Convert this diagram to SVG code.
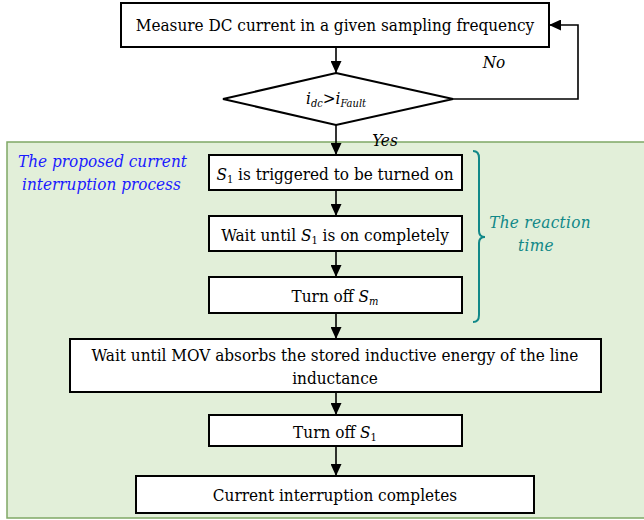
<svg xmlns="http://www.w3.org/2000/svg" width="644" height="520" viewBox="0 0 644 520">
  <style>
    text { font-family: 'DejaVu Serif Condensed', 'DejaVu Serif', serif; font-stretch: condensed; }
    .box { fill: #ffffff; stroke: #000000; stroke-width: 2; }
    .t { font-size: 17px; fill: #000000; text-anchor: middle; }
    .it { font-style: italic; }
    .sub { font-size: 11px; }
    .wire { fill: none; stroke: #000000; stroke-width: 1.6; }
    .blue { font-style: italic; font-size: 17px; fill: #1a1aff; }
    .teal { font-style: italic; font-size: 17px; fill: #118888; text-anchor: middle; letter-spacing: 0.3px; }
  </style>
  <defs>
    <marker id="arrow" viewBox="0 0 12 11" refX="12" refY="5.5" markerWidth="12" markerHeight="11" markerUnits="userSpaceOnUse" orient="auto">
      <path d="M0,0 L12,5.5 L0,11 z" fill="#000000"/>
    </marker>
  </defs>

  <!-- process region -->
  <g id="region">
    <rect x="7" y="142" width="645" height="376" fill="#e2efd9" stroke="#7fa865" stroke-width="1.5"/>
    <text class="blue" x="18" y="167">The proposed current</text>
    <text class="blue" x="22" y="190">interruption process</text>
  </g>

  <g id="measure">
    <rect class="box" x="121" y="3" width="428" height="44"/>
    <text class="t" x="335" y="31">Measure DC current in a given sampling frequency</text>
  </g>

  <g id="decision">
    <polygon points="336,73 453,99 336,125 223,99" fill="#ffffff" stroke="#000000" stroke-width="2"/>
    <text class="t it" x="336" y="104">i<tspan class="sub" dy="3">dc</tspan><tspan dy="-3">&gt;i</tspan><tspan class="sub" dy="3">Fault</tspan></text>
  </g>

  <g id="step1">
    <rect class="box" x="209" y="155" width="253" height="35"/>
    <text class="t" x="335" y="180" font-size="16.5"><tspan class="it">S</tspan><tspan class="sub" dy="3">1</tspan><tspan dy="-3"> is triggered to be turned on</tspan></text>
  </g>

  <g id="step2">
    <rect class="box" x="209" y="216" width="253" height="35"/>
    <text class="t" x="335" y="241">Wait until <tspan class="it">S</tspan><tspan class="sub" dy="3">1</tspan><tspan dy="-3"> is on completely</tspan></text>
  </g>

  <g id="step3">
    <rect class="box" x="209" y="277" width="253" height="36"/>
    <text class="t" x="335" y="302">Turn off <tspan class="it">S</tspan><tspan class="sub it" dy="3">m</tspan></text>
  </g>

  <g id="step4">
    <rect class="box" x="70" y="339" width="531" height="53"/>
    <text class="t" x="335" y="361">Wait until MOV absorbs the stored inductive energy of the line</text>
    <text class="t" x="335" y="384">inductance</text>
  </g>

  <g id="step5">
    <rect class="box" x="209" y="415" width="253" height="31"/>
    <text class="t" x="335" y="438">Turn off <tspan class="it">S</tspan><tspan class="sub" dy="3">1</tspan></text>
  </g>

  <g id="step6">
    <rect class="box" x="136" y="476" width="398" height="37"/>
    <text class="t" x="335" y="501">Current interruption completes</text>
  </g>

  <!-- bracket for reaction time -->
  <g id="reaction">
    <path d="M473,151 Q479,151 479,158 L479,231 Q479,237 485,237 Q479,237 479,243 L479,315 Q479,322 473,322" fill="none" stroke="#118888" stroke-width="2"/>
    <text class="teal" x="540" y="228">The reaction</text>
    <text class="teal" x="536" y="251">time</text>
  </g>

  <g id="connectors">
    <line class="wire" x1="336" y1="47" x2="336" y2="73" marker-end="url(#arrow)"/>
    <line class="wire" x1="336" y1="125" x2="336" y2="155" marker-end="url(#arrow)"/>
    <polyline class="wire" points="453,99 578,99 578,25 549,25" marker-end="url(#arrow)"/>
    <line class="wire" x1="336" y1="190" x2="336" y2="216" marker-end="url(#arrow)"/>
    <line class="wire" x1="336" y1="251" x2="336" y2="277" marker-end="url(#arrow)"/>
    <line class="wire" x1="336" y1="313" x2="336" y2="339" marker-end="url(#arrow)"/>
    <line class="wire" x1="336" y1="392" x2="336" y2="415" marker-end="url(#arrow)"/>
    <line class="wire" x1="336" y1="446" x2="336" y2="476" marker-end="url(#arrow)"/>
    <text class="t it" x="494" y="68">No</text>
    <text class="t it" x="385" y="146">Yes</text>
  </g>
</svg>
